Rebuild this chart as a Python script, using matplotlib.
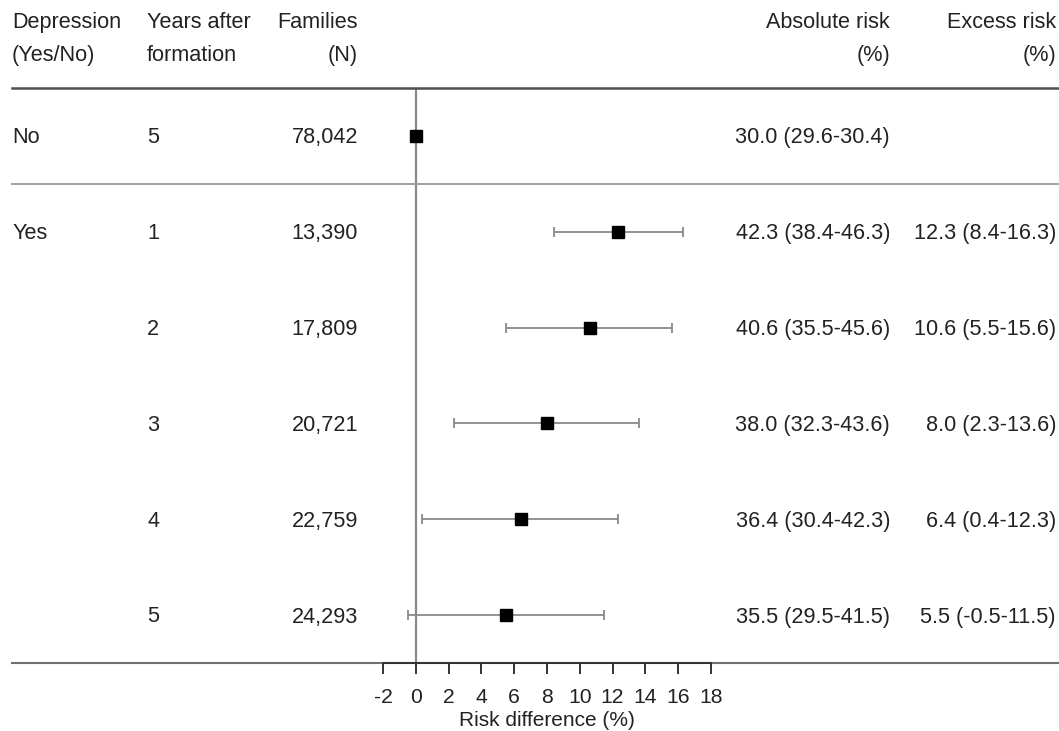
import numpy as np
import matplotlib.pyplot as plt
from matplotlib import transforms

plt.rcParams["font.family"] = ["Liberation Sans", "DejaVu Sans"]

# table data
depression = ["No", "Yes", "", "", "", ""]
years = [5, 1, 2, 3, 4, 5]
families = [78042, 13390, 17809, 20721, 22759, 24293]
abs_risk = [30.0, 42.3, 40.6, 38.0, 36.4, 35.5]
abs_lo = [29.6, 38.4, 35.5, 32.3, 30.4, 29.5]
abs_hi = [30.4, 46.3, 45.6, 43.6, 42.3, 41.5]
rd = [0.0, 12.3, 10.6, 8.0, 6.4, 5.5]
rd_lo = [np.nan, 8.4, 5.5, 2.3, 0.4, -0.5]
rd_hi = [np.nan, 16.3, 15.6, 13.6, 12.3, 11.5]
xticks = list(range(-2, 19, 2))

W, H = 1059, 731
FS = 15.6
fig = plt.figure(figsize=(W / 100, H / 100), dpi=100)

# forest panel placed in pixel units
x0, x1 = 383, 711
y_top, y_bot = 88, 663
ax = fig.add_axes([x0 / W, (H - y_bot) / H, (x1 - x0) / W, (y_bot - y_top) / H])
n = len(rd)
ax.set_xlim(-2, 18)
ax.set_ylim(n - 0.5, -0.5)

ax.axvline(0, color="#8a8a8a", lw=1.6, zorder=1)

rows = np.arange(n)
rd_arr = np.array(rd)
lo = rd_arr - np.array(rd_lo)
hi = np.array(rd_hi) - rd_arr
ax.errorbar(rd_arr[1:], rows[1:], xerr=[lo[1:], hi[1:]], fmt="none",
            ecolor="#8a8a8a", elinewidth=1.3, capsize=3.8, capthick=1.3, zorder=2)
ax.plot(rd_arr, rows, "s", color="black", markersize=8, zorder=3)

for s in ["top", "left", "right", "bottom"]:
    ax.spines[s].set_visible(False)
ax.set_yticks([])
ax.set_xticks(xticks)
ax.set_xticklabels([str(t) for t in xticks])
ax.tick_params(axis="x", direction="out", length=8, width=1.4, color="#333333",
               labelsize=15.2, labelcolor="#222222", pad=10)
ax.set_xlabel("Risk difference (%)", fontsize=15, color="#222222", labelpad=3)

# separator lines across the full width
xa = (12 - x0) / (x1 - x0)
xb = (1058 - x0) / (x1 - x0)
ax.axhline(-0.5, xmin=xa, xmax=xb, color="#505050", lw=1.8, clip_on=False)
ax.axhline(0.5, xmin=xa, xmax=xb, color="#a0a0a0", lw=1.4, clip_on=False)
ax.axhline(n - 0.5, xmin=xa, xmax=xb, color="#707070", lw=1.5, clip_on=False)
# axis baseline between first and last tick
ax.plot([xticks[0], xticks[-1]], [n - 0.5, n - 0.5], color="#333333", lw=1.4,
        clip_on=False, zorder=4)

tr = transforms.blended_transform_factory(fig.transFigure, ax.transData)
kw = dict(fontsize=FS, color="#222222", va="center", transform=tr)

col_dep, col_yrs, col_fam, col_abs, col_exc = 12 / W, 147 / W, 358 / W, 890 / W, 1056 / W
hy = -1.01
hk = dict(kw, linespacing=1.75)
fig.text(col_dep, hy, "Depression\n(Yes/No)", ha="left", **hk)
fig.text(col_yrs, hy, "Years after\nformation", ha="left", **hk)
fig.text(col_fam, hy, "Families\n(N)", ha="right", multialignment="right", **hk)
fig.text(col_abs, hy, "Absolute risk\n(%)", ha="right", multialignment="right", **hk)
fig.text(col_exc, hy, "Excess risk\n(%)", ha="right", multialignment="right", **hk)

for i in range(n):
    y = i + 0.02
    fig.text(col_dep, y, depression[i], ha="left", **kw)
    fig.text(col_yrs, y, str(years[i]), ha="left", **kw)
    fig.text(col_fam, y, f"{families[i]:,}", ha="right", **kw)
    fig.text(col_abs, y, f"{abs_risk[i]:.1f} ({abs_lo[i]:.1f}-{abs_hi[i]:.1f})", ha="right", **kw)
    if not np.isnan(rd_lo[i]):
        fig.text(col_exc, y, f"{rd[i]:.1f} ({rd_lo[i]:.1f}-{rd_hi[i]:.1f})", ha="right", **kw)

fig.savefig("out.png", dpi=100)
